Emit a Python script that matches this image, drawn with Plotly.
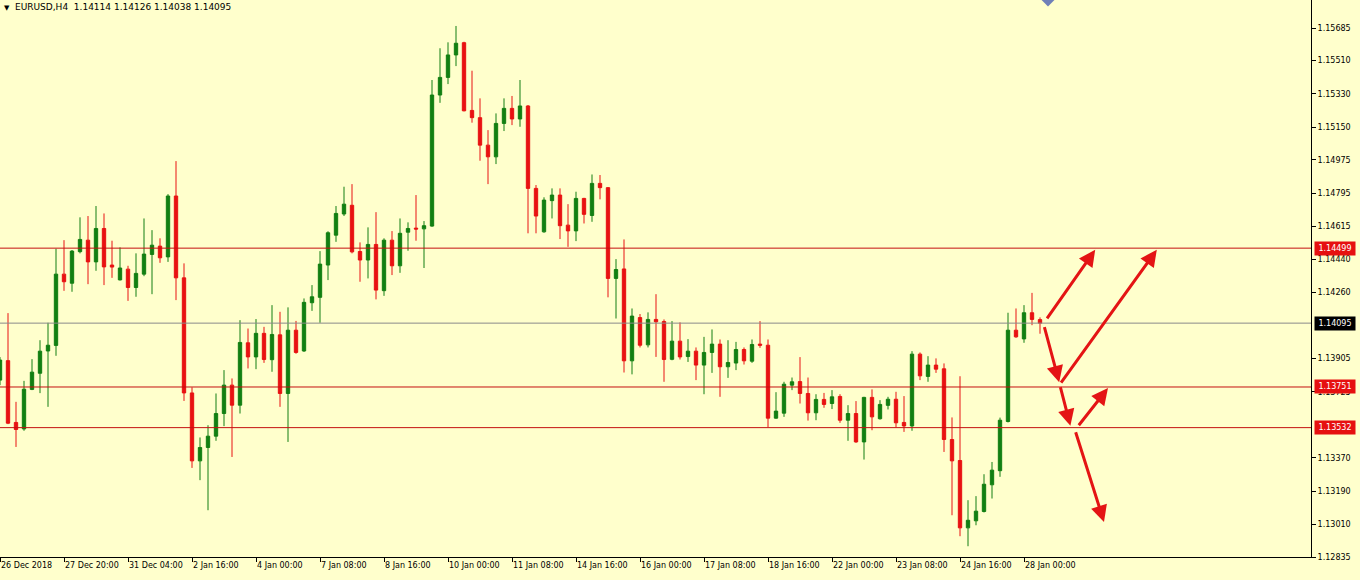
import plotly.graph_objects as go

# ---- data (EURUSD H4) ----
opens = [1.13788,1.13893,1.13560,1.13525,1.13738,1.13825,1.13945,1.13975,1.14359,1.14310,
         1.14480,1.14542,1.14425,1.14605,1.14408,1.14328,1.14386,1.14287,1.14359,1.14465,
         1.14510,1.14452,1.14780,1.14339,1.13719,1.13353,1.13425,1.13486,1.13608,1.13761,
         1.13653,1.13989,1.13913,1.14040,1.13898,1.14032,1.13716,1.14057,1.13945,1.14205,
         1.14234,1.14408,1.14569,1.14683,1.14730,1.14481,1.14435,1.14519,1.14270,1.14542,
         1.14404,1.14585,1.14607,1.14603,1.14618,1.15324,1.15419,1.15540,1.15606,1.15241,
         1.15202,1.15054,1.14991,1.15171,1.15252,1.15195,1.15265,1.14821,1.14587,1.14755,
         1.14785,1.14623,1.14592,1.14767,1.14675,1.14848,1.14825,1.14336,1.14387,1.13892,
         1.14125,1.13978,1.14115,1.14104,1.13900,1.13998,1.13915,1.13944,1.13869,1.13937,
         1.13982,1.13860,1.13880,1.13953,1.13890,1.13982,1.13976,1.13583,1.13610,1.13761,
         1.13780,1.13716,1.13612,1.13684,1.13662,1.13700,1.13572,1.13608,1.13455,1.13695,
         1.13580,1.13652,1.13685,1.13560,1.13541,1.13928,1.13808,1.13869,1.13849,1.13468,
         1.13355,1.12992,1.13030,1.13080,1.13224,1.13300,1.13565,1.14057,1.14010,1.14151,
         1.14114]
highs = [1.13912,1.14149,1.13671,1.13784,1.13901,1.14003,1.14097,1.14496,1.14542,1.14489,
         1.14665,1.14672,1.14726,1.14686,1.14539,1.14503,1.14404,1.14471,1.14659,1.14596,
         1.14552,1.14790,1.14968,1.14417,1.13749,1.13479,1.13545,1.13716,1.13842,1.13797,
         1.14111,1.14066,1.14117,1.14075,1.14192,1.14156,1.14180,1.14107,1.14228,1.14300,
         1.14483,1.14590,1.14726,1.14830,1.14844,1.14530,1.14611,1.14693,1.14552,1.14591,
         1.14659,1.14638,1.14785,1.14645,1.15405,1.15576,1.15608,1.15696,1.15611,1.15455,
         1.15306,1.15135,1.15225,1.15306,1.15319,1.15405,1.15270,1.14839,1.14773,1.14821,
         1.14821,1.14736,1.14803,1.14770,1.14896,1.14893,1.14828,1.14440,1.14546,1.14174,
         1.14144,1.14153,1.14251,1.14115,1.14106,1.14099,1.14009,1.13964,1.14021,1.14061,
         1.14007,1.14003,1.13994,1.13964,1.14007,1.14106,1.14007,1.13723,1.13779,1.13802,
         1.13912,1.13802,1.13712,1.13719,1.13734,1.13712,1.13653,1.13675,1.13698,1.13738,
         1.13680,1.13698,1.13725,1.13702,1.13944,1.13937,1.13917,1.13905,1.13878,1.13587,
         1.13809,1.13141,1.13163,1.13281,1.13347,1.13586,1.14151,1.14174,1.14192,1.14258,
         1.14126]
lows = [1.13761,1.13551,1.13428,1.13515,1.13734,1.13718,1.13644,1.13919,1.14269,1.14264,
        1.14471,1.14305,1.14377,1.14300,1.14339,1.14325,1.14215,1.14237,1.14348,1.14251,
        1.14420,1.14425,1.14219,1.13676,1.13315,1.13249,1.13087,1.13461,1.13540,1.13374,
        1.13608,1.13851,1.13847,1.13881,1.13833,1.13644,1.13455,1.13930,1.13940,1.14161,
        1.14097,1.14327,1.14533,1.14672,1.14471,1.14318,1.14336,1.14223,1.14242,1.14354,
        1.14366,1.14485,1.14539,1.14392,1.14614,1.15282,1.15383,1.15480,1.15236,1.15175,
        1.14970,1.14844,1.14952,1.15130,1.15162,1.15153,1.14579,1.14579,1.14582,1.14659,
        1.14548,1.14506,1.14537,1.14632,1.14641,1.14762,1.14234,1.14120,1.13829,1.13819,
        1.13964,1.13964,1.13913,1.13779,1.13895,1.13899,1.13886,1.13788,1.13712,1.13827,
        1.13698,1.13800,1.13842,1.13872,1.13881,1.13962,1.13535,1.13580,1.13590,1.13734,
        1.13662,1.13570,1.13572,1.13639,1.13632,1.13558,1.13461,1.13450,1.13360,1.13518,
        1.13575,1.13630,1.13533,1.13509,1.13515,1.13788,1.13779,1.13827,1.13401,1.13060,
        1.12947,1.12893,1.13006,1.13075,1.13150,1.13267,1.13560,1.14016,1.13989,1.14084,
        1.14038]
closes = [1.13896,1.13556,1.13522,1.13739,1.13831,1.13944,1.13976,1.14359,1.14318,1.14483,
          1.14546,1.14425,1.14605,1.14398,1.14397,1.14392,1.14287,1.14363,1.14467,1.14515,
          1.14447,1.14780,1.14339,1.13719,1.13353,1.13425,1.13486,1.13608,1.13761,1.13653,
          1.13991,1.13913,1.14040,1.13899,1.14034,1.13716,1.14057,1.13937,1.14207,1.14237,
          1.14413,1.14582,1.14686,1.14736,1.14479,1.14435,1.14519,1.14273,1.14542,1.14404,
          1.14579,1.14605,1.14602,1.14620,1.15324,1.15419,1.15540,1.15603,1.15239,1.15202,
          1.15054,1.14991,1.15171,1.15252,1.15195,1.15265,1.14821,1.14672,1.14758,1.14785,
          1.14620,1.14592,1.14767,1.14681,1.14848,1.14825,1.14336,1.14384,1.13892,1.14133,
          1.13976,1.14115,1.14102,1.13899,1.13998,1.13913,1.13944,1.13869,1.13937,1.13982,
          1.13860,1.13883,1.13953,1.13892,1.13980,1.13976,1.13583,1.13621,1.13766,1.13779,
          1.13716,1.13612,1.13684,1.13657,1.13698,1.13572,1.13608,1.13455,1.13695,1.13590,
          1.13657,1.13685,1.13558,1.13541,1.13928,1.13811,1.13869,1.13847,1.13468,1.13353,
          1.12992,1.13033,1.13082,1.13227,1.13303,1.13572,1.14057,1.14021,1.14151,1.14115,
          1.14095]

x_labels = ["26 Dec 2018", "27 Dec 20:00", "31 Dec 04:00", "2 Jan 16:00", "4 Jan 00:00",
            "7 Jan 08:00", "8 Jan 16:00", "10 Jan 00:00", "11 Jan 08:00", "14 Jan 16:00",
            "16 Jan 00:00", "17 Jan 08:00", "18 Jan 16:00", "22 Jan 00:00", "23 Jan 08:00",
            "24 Jan 16:00", "28 Jan 00:00"]
label_step = 8

y_ticks = [1.15685, 1.15510, 1.15330, 1.15150, 1.14975, 1.14795, 1.14615, 1.14440,
           1.14260, 1.13905, 1.13725, 1.13370, 1.13190, 1.13010, 1.12835]

levels = [1.14499, 1.13751, 1.13532]
bid = 1.14095

# arrows: (from_bar, from_price, to_bar, to_price)
arrow_from_x = [130.75, 130.5, 132.5, 132.5, 134.7, 134.4]
arrow_from_y = [1.14113, 1.14082, 1.13767, 1.13758, 1.13537, 1.13515]
arrow_to_x = [136.9, 132.4, 144.6, 133.8, 138.5, 138.0]
arrow_to_y = [1.14490, 1.13776, 1.14490, 1.13542, 1.13745, 1.13024]

title_text = "EURUSD,H4  1.14114 1.14126 1.14038 1.14095"

# ---- styles ----
BG = "#FFFFCC"
GREEN = "#127f12"
RED = "#e81212"
LEVEL_RED = "#c41010"
FONT = "DejaVu Sans"

bars = list(range(len(opens)))

fig = go.Figure()
fig.add_trace(go.Candlestick(
    x=bars, open=opens, high=highs, low=lows, close=closes,
    increasing=dict(line=dict(color=GREEN, width=1), fillcolor=GREEN),
    decreasing=dict(line=dict(color=RED, width=1), fillcolor=RED),
    whiskerwidth=0, hoverinfo="skip", showlegend=False,
))

# small object marker at the top edge
fig.add_trace(go.Scatter(
    x=[131], y=[1.15840], mode="markers",
    marker=dict(symbol="diamond", size=11, color="#7080b8"),
    hoverinfo="skip", showlegend=False, cliponaxis=True,
))

shapes = []
for lv in levels:
    shapes.append(dict(type="line", xref="paper", x0=0, x1=1, yref="y", y0=lv, y1=lv,
                       line=dict(color=LEVEL_RED, width=1)))
shapes.append(dict(type="line", xref="paper", x0=0, x1=1, yref="y", y0=bid, y1=bid,
                   line=dict(color="#8a8a8a", width=1)))

annotations = []
for fx, fy, tx, ty in zip(arrow_from_x, arrow_from_y, arrow_to_x, arrow_to_y):
    annotations.append(dict(x=tx, y=ty, xref="x", yref="y", ax=fx, ay=fy,
                            axref="x", ayref="y", text="", showarrow=True,
                            arrowhead=2, arrowsize=1.1, arrowwidth=3,
                            arrowcolor="#e41414", standoff=0))

for lv, col in [(levels[0], "#e61010"), (bid, "#000000"), (levels[1], "#e61010"), (levels[2], "#e61010")]:
    annotations.append(dict(xref="paper", x=1, xanchor="left", xshift=3,
                            yref="y", y=lv, yanchor="middle",
                            text=f"{lv:.5f}", showarrow=False,
                            font=dict(family=FONT, size=8, color="white"),
                            bgcolor=col, width=38, height=11, borderpad=1))

annotations.append(dict(xref="paper", yref="paper", x=0, y=1, xanchor="left", yanchor="top",
                        xshift=2, yshift=-2, text="▼", showarrow=False,
                        font=dict(family=FONT, size=7, color="black")))
annotations.append(dict(xref="paper", yref="paper", x=0, y=1, xanchor="left", yanchor="top",
                        xshift=13, yshift=0, text=title_text, showarrow=False,
                        font=dict(family=FONT, size=9, color="black")))

fig.update_layout(
    width=1360, height=580,
    margin=dict(l=0, r=49, t=0, b=23, pad=0),
    paper_bgcolor=BG, plot_bgcolor=BG,
    boxgap=0.4,
    shapes=shapes, annotations=annotations,
    xaxis=dict(range=[0, 1311 / 8], rangeslider=dict(visible=False),
               tickvals=[i * label_step for i in range(len(x_labels))],
               ticktext=x_labels, ticklabelposition="outside right",
               ticks="outside", ticklen=4, tickcolor="black",
               showgrid=False, zeroline=False,
               showline=True, linecolor="black", linewidth=1,
               tickfont=dict(family=FONT, size=8, color="black")),
    yaxis=dict(range=[1.12835, 1.15836], side="right",
               tickvals=y_ticks, ticktext=[f"{v:.5f}" for v in y_ticks],
               ticks="outside", ticklen=4, tickcolor="black",
               showgrid=False, zeroline=False,
               showline=True, linecolor="black", linewidth=1,
               tickfont=dict(family=FONT, size=8, color="black")),
)

fig.write_html("out.html", config={"displayModeBar": False},
               post_script="document.body.style.margin='0';document.body.style.background='" + BG + "';")
